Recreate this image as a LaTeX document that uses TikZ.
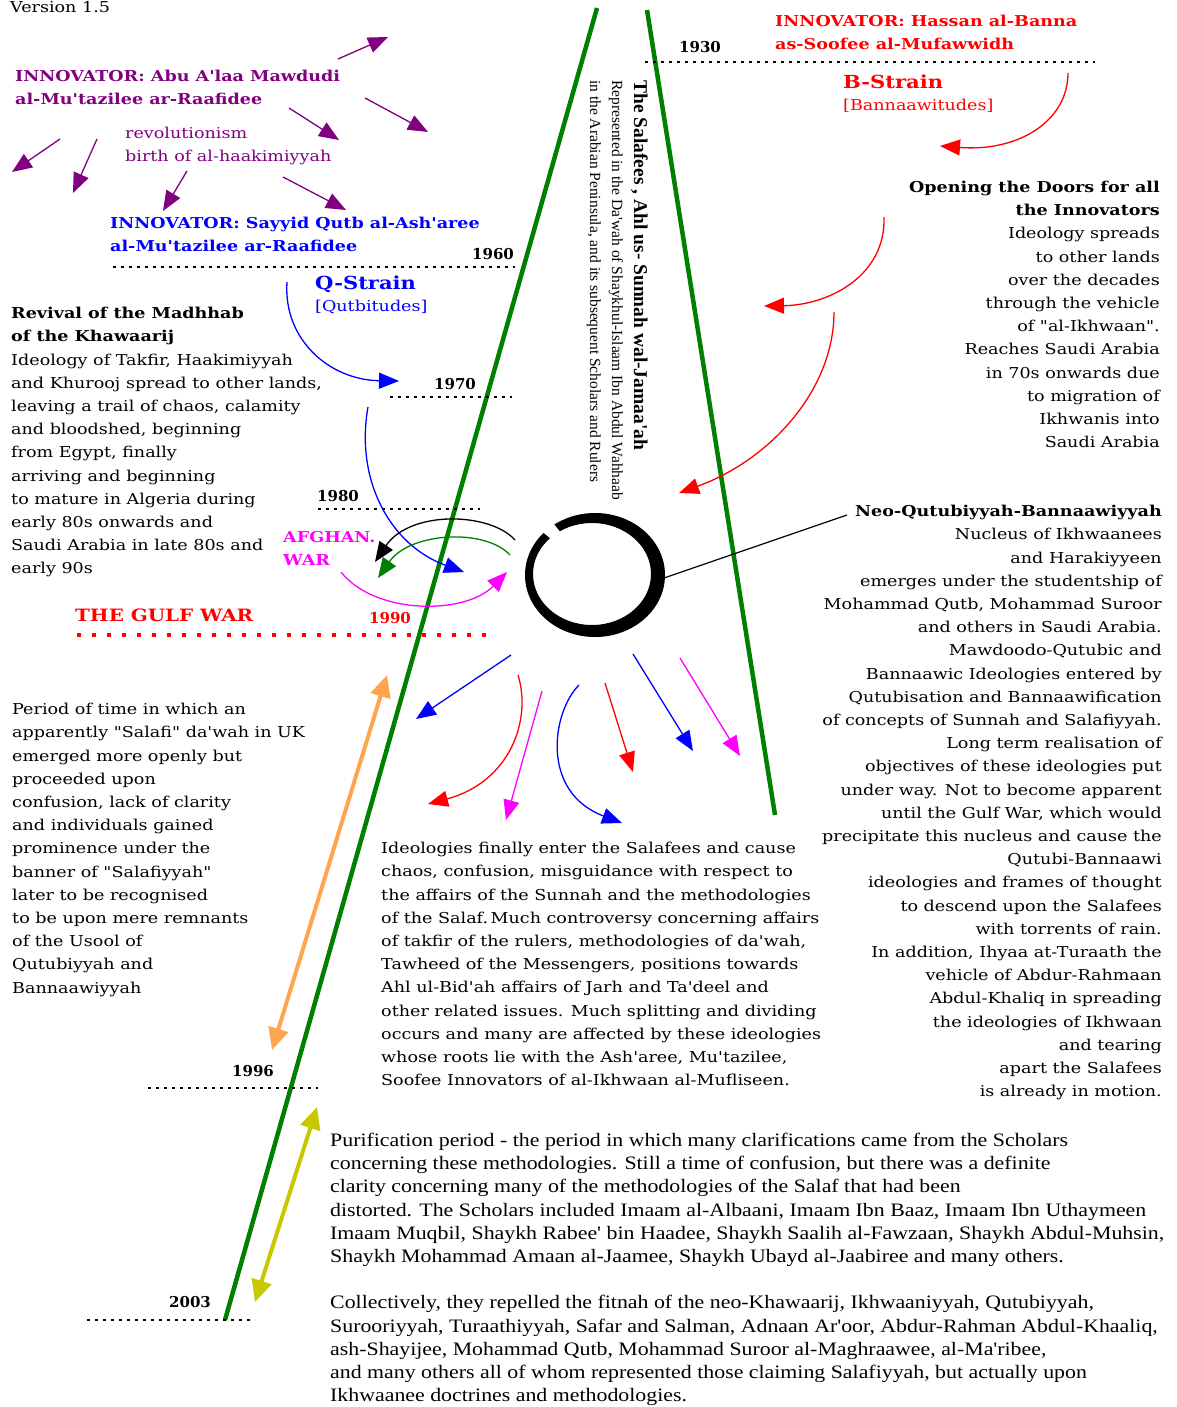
\documentclass[tikz,border=0pt]{standalone}
\usepackage{fontspec}
\setmainfont{DejaVu Serif}[Ligatures=TeXOff, FakeStretch=1.17]
\newfontfamily\yearfont{DejaVu Serif}[Ligatures=TeXOff]
\newfontfamily\timesfont{Liberation Serif}[Ligatures=TeXOff, FakeStretch=1.15]
\newfontfamily\vertfont{Liberation Serif}[Ligatures=TeXOff]
\usetikzlibrary{arrows.meta, positioning}

\definecolor{tlgreen}{RGB}{0,128,0}
\definecolor{innpurple}{RGB}{128,0,128}
\definecolor{tlorange}{RGB}{255,165,80}
\definecolor{tlyellow}{RGB}{200,200,0}
\definecolor{tlmagenta}{RGB}{255,0,255}

\begin{document}
\begin{tikzpicture}[x=1pt, y=-1pt,
  txt/.style={inner sep=0pt, font=\fontsize{15}{23.2}\selectfont},
  head/.style={txt, font=\fontsize{15}{23.2}\selectfont\bfseries},
  yearlbl/.style={inner sep=0pt, font=\yearfont\fontsize{15}{18}\selectfont\bfseries},
  yearline/.style={dash pattern=on 3pt off 5pt, line width=1.2pt},
  timeline/.style={tlgreen, line width=4.5pt},
  arw/.style={line width=1.3pt, -{Triangle[length=20pt, width=16pt]}},
  dblarw/.style={line width=4pt, {Triangle[length=22pt, width=20pt]}-{Triangle[length=22pt, width=20pt]}}]

\useasboundingbox (0,0) rectangle (1176,1407);

% time lines of the Salafees
\draw[timeline] (597,8) -- (225,1320);
\draw[timeline] (647,10) -- (775,815);

% decades
\draw[yearline] (645,62) -- (1095,62);
\draw[yearline] (113,267) -- (515,267);
\draw[yearline] (390,397) -- (512,397);
\draw[yearline] (318,509) -- (480,509);
\draw[yearline] (148,1088) -- (318,1088);
\draw[yearline] (87,1320) -- (255,1320);
\draw[red, line width=4pt, dash pattern=on 4pt off 11pt] (77,635) -- (495,635);

\node (y1930) [yearlbl] at (700,47) {1930};
\node (y1960) [yearlbl] at (493,254) {1960};
\node (y1970) [yearlbl] at (455,384) {1970};
\node (y1980) [yearlbl] at (338,496) {1980};
\node (y1990) [yearlbl, red] at (390,618) {1990};
\node (y1996) [yearlbl] at (253,1071) {1996};
\node (y2003) [yearlbl] at (190,1302) {2003};

\node (version) [txt, anchor=north west] at (10,1) {Version 1.5};

% innovators
\node (mawdudi) [head, innpurple, anchor=north west, align=left] at (15,70)
  {INNOVATOR: Abu A'laa Mawdudi\\al-Mu'tazilee ar-Raafidee};
\node (revol) [txt, innpurple, anchor=north west, align=left] at (125,127)
  {revolutionism\\birth of al-haakimiyyah};
\node (qutb) [head, blue, anchor=north west, align=left] at (110,217)
  {INNOVATOR: Sayyid Qutb al-Ash'aree\\al-Mu'tazilee ar-Raafidee};
\node (banna) [head, red, anchor=north west, align=left] at (775,15)
  {INNOVATOR: Hassan al-Banna\\as-Soofee al-Mufawwidh};

\node (bstrain) [head, red, font=\fontsize{18}{20}\selectfont\bfseries, anchor=north west] at (843,75) {B-Strain};
\node (bnote) [txt, red, anchor=north west] at (843,99) {[Bannaawitudes]};
\node (qstrain) [head, blue, font=\fontsize{18}{20}\selectfont\bfseries, anchor=north west] at (315,276) {Q-Strain};
\node (qnote) [txt, blue, anchor=north west] at (315,300) {[Qutbitudes]};

\draw[innpurple, arw] (338,59) -- (388,37);
\draw[innpurple, arw] (365,98) -- (428,132);
\draw[innpurple, arw] (289,108) -- (339,140);
\draw[innpurple, arw] (60,139) -- (12,172);
\draw[innpurple, arw] (97,139) -- (73,193);
\draw[innpurple, arw] (187,171) -- (163,211);
\draw[innpurple, arw] (283,177) -- (346,210);

% strains
\draw[red, arw] (1068,73) .. controls (1068,120) and (1020,152) .. (940,146);
\draw[red, arw] (884,217) .. controls (886,275) and (830,305) .. (764,306);
\draw[red, arw] (834,312) .. controls (834,390) and (770,460) .. (679,493);
\draw[blue, arw] (287,282) .. controls (283,340) and (330,380) .. (399,381);
\draw[blue, arw] (368,407) .. controls (355,480) and (390,545) .. (464,572);
\draw[black, arw] (515,540) .. controls (490,512) and (410,510) .. (375,562);
\draw[tlgreen, arw] (510,555) .. controls (485,528) and (410,532) .. (378,578);
\draw[tlmagenta, arw] (341,572) .. controls (375,615) and (465,615) .. (507,572);

\node (opening) [txt, anchor=north east, align=right] at (1160,181)
  {\textbf{Opening the Doors for all}\\\textbf{the Innovators}\\Ideology spreads\\to other lands\\
   over the decades\\through the vehicle\\of "al-Ikhwaan".\\Reaches Saudi Arabia\\
   in 70s onwards due\\to migration of\\Ikhwanis into\\Saudi Arabia};

\node (revival) [txt, anchor=north west, align=left] at (11,307)
  {\textbf{Revival of the Madhhab}\\\textbf{of the Khawaarij}\\Ideology of Takfir, Haakimiyyah\\
   and Khurooj spread to other lands,\\leaving a trail of chaos, calamity\\and bloodshed, beginning\\
   from Egypt, finally\\arriving and beginning\\to mature in Algeria during\\early 80s onwards and\\
   Saudi Arabia in late 80s and\\early 90s};

\node (afghan) [head, tlmagenta, anchor=north west, align=left] at (283,531) {AFGHAN.\\WAR};
\node (gulf) [head, red, font=\fontsize{17}{20}\selectfont\bfseries, anchor=north west] at (75,609) {THE GULF WAR};

\node (salafees) [rotate=-90, anchor=north west, inner sep=0pt, align=left,
  font=\vertfont\fontsize{15.5}{22}\selectfont] at (648,80)
  {{\fontsize{19.5}{22}\selectfont\bfseries The Salafees , Ahl us- Sunnah wal-Jamaa'ah}\\
   Represented in the Da'wah of Shaykhul-Islaam Ibn Abdul Wahhaab\\
   in the Arabian Peninsula, and its subsequent Scholars and Rulers};

% the nucleus, a ring thicker towards the lower right
\coordinate (nucleus) at (594,575);
\fill[even odd rule] (595,575) ellipse[x radius=70, y radius=62]
                     (592,574) ellipse[x radius=59, y radius=51];
\fill[white] (nucleus) -- (539,505) -- (526,518) -- cycle;
\coordinate (nucleusedge) at (664,578);
\coordinate (neotip) at (847,515);
\draw[line width=1.2pt] (nucleusedge) -- (neotip);

\node (neo) [txt, anchor=north east, align=right] at (1162,505)
  {\textbf{Neo-Qutubiyyah-Bannaawiyyah}\\Nucleus of Ikhwaanees\\and Harakiyyeen\\
   emerges under the studentship of\\Mohammad Qutb, Mohammad Suroor\\and others in Saudi Arabia.\\
   Mawdoodo-Qutubic and\\Bannaawic Ideologies entered by\\Qutubisation and Bannaawification\\
   of concepts of Sunnah and Salafiyyah.\\Long term realisation of\\objectives of these ideologies put\\
   under way. Not to become apparent\\until the Gulf War, which would\\precipitate this nucleus and cause the\\
   Qutubi-Bannaawi\\ideologies and frames of thought\\to descend upon the Salafees\\
   with torrents of rain.\\In addition, Ihyaa at-Turaath the\\vehicle of Abdur-Rahmaan\\
   Abdul-Khaliq in spreading\\the ideologies of Ikhwaan\\and tearing\\apart the Salafees\\
   is already in motion.};

% ideologies descending
\draw[blue, arw] (511,655) -- (416,719);
\draw[red, arw] (518,675) .. controls (532,720) and (510,782) .. (428,804);
\draw[tlmagenta, arw] (542,691) -- (506,820);
\draw[blue, arw] (579,685) .. controls (552,712) and (540,792) .. (622,823);
\draw[red, arw] (605,683) -- (633,772);
\draw[blue, arw] (633,654) -- (693,751);
\draw[tlmagenta, arw] (680,658) -- (740,756);

\node (chaos) [txt, anchor=north west, align=left] at (381,842)
  {Ideologies finally enter the Salafees and cause\\chaos, confusion, misguidance with respect to\\
   the affairs of the Sunnah and the methodologies\\of the Salaf.\,Much controversy concerning affairs\\
   of takfir of the rulers, methodologies of da'wah,\\Tawheed of the Messengers, positions towards\\
   Ahl ul-Bid'ah affairs of Jarh and Ta'deel and\\other related issues. Much splitting and dividing\\
   occurs and many are affected by these ideologies\\whose roots lie with the Ash'aree, Mu'tazilee,\\
   Soofee Innovators of al-Ikhwaan al-Mufliseen.};

\node (period) [txt, anchor=north west, align=left] at (12,703)
  {Period of time in which an\\apparently "Salafi" da'wah in UK\\emerged more openly but\\proceeded upon\\
   confusion, lack of clarity\\and individuals gained\\prominence under the\\banner of "Salafiyyah"\\
   later to be recognised\\to be upon mere remnants\\of the Usool of\\Qutubiyyah and\\Bannaawiyyah};

\draw[tlorange, dblarw] (272,1050) -- (387,675);
\draw[tlyellow, dblarw] (255,1302) -- (317,1107);

\node (purif) [inner sep=0pt, anchor=north west, align=left,
  font=\timesfont\fontsize{19}{23.2}\selectfont] at (330,1133)
  {Purification period - the period in which many clarifications came from the Scholars\\
   concerning these methodologies. Still a time of confusion, but there was a definite\\
   clarity concerning many of the methodologies of the Salaf that had been\\
   distorted. The Scholars included Imaam al-Albaani, Imaam Ibn Baaz, Imaam Ibn Uthaymeen\\
   Imaam Muqbil, Shaykh Rabee' bin Haadee, Shaykh Saalih al-Fawzaan, Shaykh Abdul-Muhsin,\\
   Shaykh Mohammad Amaan al-Jaamee, Shaykh Ubayd al-Jaabiree and many others.\\[23.2pt]
   Collectively, they repelled the fitnah of the neo-Khawaarij, Ikhwaaniyyah, Qutubiyyah,\\
   Surooriyyah, Turaathiyyah, Safar and Salman, Adnaan Ar'oor, Abdur-Rahman Abdul-Khaaliq,\\
   ash-Shayijee, Mohammad Qutb, Mohammad Suroor al-Maghraawee, al-Ma'ribee,\\
   and many others all of whom represented those claiming Salafiyyah, but actually upon\\
   Ikhwaanee doctrines and methodologies.};

\end{tikzpicture}
\end{document}
